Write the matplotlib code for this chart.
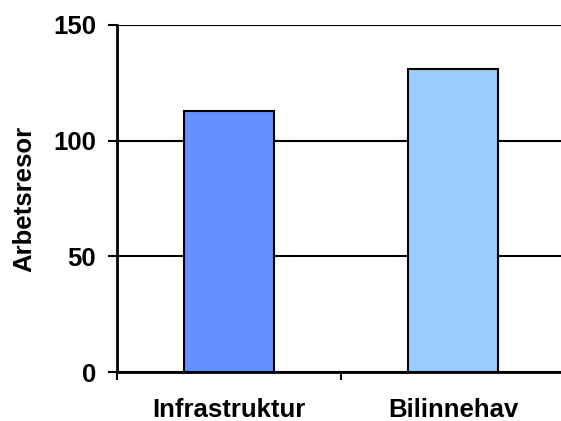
import matplotlib
matplotlib.use("Agg")
import matplotlib.pyplot as plt

categories = ["Infrastruktur", "Bilinnehav"]
values = [113, 131]
colors = ["#6391FF", "#99CCFF"]
yticks = [0, 50, 100, 150]
ylabel = "Arbetsresor"

plt.rcParams['font.family'] = ['Liberation Sans', 'DejaVu Sans']

fig = plt.figure(figsize=(5.61, 4.21), dpi=100)
ax = fig.add_axes([117/561, 49/421, 444/561, 347/421])

x = list(range(len(categories)))
ax.bar(x, values, width=0.4, color=colors, edgecolor="black", linewidth=1.5, zorder=3)

ax.set_xlim(-0.5, 1.482)
ax.set_ylim(0, 150)
ax.set_yticks(yticks)
ax.set_yticklabels([str(t) for t in yticks], fontsize=18.5, fontweight="bold")
ax.yaxis.grid(True, color="black", linewidth=1.5, zorder=0)
ax.set_axisbelow(True)

ax.set_xticks([-0.5, 0.5])
ax.set_xticklabels([])
ax.set_xticks(x, minor=True)
ax.set_xticklabels(categories, minor=True, fontsize=18.5, fontweight="bold")
ax.tick_params(axis="x", which="minor", length=0, pad=19)
ax.tick_params(axis="x", which="major", length=6, width=1.5, direction="out")
ax.tick_params(axis="y", length=6.5, width=1.5, direction="out", pad=8.5)

for s in ["top", "right"]:
    ax.spines[s].set_visible(False)
for s in ["left", "bottom"]:
    ax.spines[s].set_linewidth(2)

ax.set_ylabel(ylabel, fontsize=18.5, fontweight="bold", labelpad=12)

fig.savefig("out.png", dpi=100)
